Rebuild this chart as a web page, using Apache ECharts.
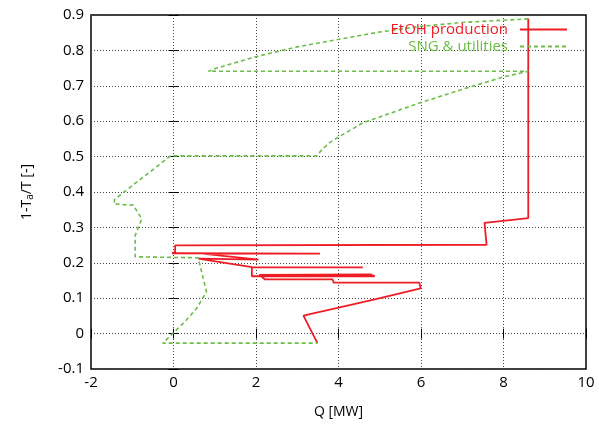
<!DOCTYPE html>
<html>
<head>
<meta charset="utf-8">
<script src="https://cdn.jsdelivr.net/npm/echarts@6/dist/echarts.min.js"></script>
<style>
html, body { margin: 0; padding: 0; background: #fff; }
#container { width: 599px; height: 424px; }
</style>
</head>
<body>
<div id="container"></div>
<script>
var dom = document.getElementById("container");
var myChart = echarts.init(dom);

// EtOH production curve (Q in MW, 1-Ta/T)
var etohQ = [8.6, 8.6, 7.54, 7.59, 0.04, 0.04, -0.03, 3.55, 0.75, 2.06, 0.6, 1.9, 4.59, 1.9, 1.9, 4.88, 4.78, 2.08, 2.22, 3.86, 3.88, 5.96, 5.99, 4.88, 3.15, 3.49];
var etohT = [0.89, 0.326, 0.313, 0.251, 0.249, 0.231, 0.227, 0.226, 0.225, 0.209, 0.212, 0.188, 0.187, 0.187, 0.162, 0.162, 0.167, 0.166, 0.153, 0.153, 0.144, 0.144, 0.128, 0.097, 0.051, -0.027];

// SNG & utilities curve
var sngQ = [8.6, 7.0, 6.0, 5.0, 4.04, 3.0, 2.02, 1.05, 0.844, 8.6, 8.0, 7.0, 5.98, 5.0, 4.6, 4.04, 3.79, 3.6, 3.47, -0.07, -1.42, -1.45, -1.2, -0.975, -0.77, -0.93, -0.93, 0.6, 0.72, 0.8, 0.56, 0.28, -0.26, 3.49];
var sngT = [0.889, 0.879, 0.868, 0.852, 0.832, 0.81, 0.783, 0.75, 0.741, 0.741, 0.725, 0.69, 0.652, 0.612, 0.596, 0.558, 0.54, 0.52, 0.502, 0.502, 0.38, 0.367, 0.364, 0.363, 0.324, 0.277, 0.217, 0.214, 0.156, 0.118, 0.071, 0.034, -0.027, -0.027];

var xTicks = [-2, 0, 2, 4, 6, 8, 10];

function pairs(xs, ys) {
    var out = [];
    for (var i = 0; i < xs.length; i++) {
        out.push([xs[i], ys[i]]);
    }
    return out;
}

var red = '#ee1d25';
var green = '#6abd45';
var font = 'Open Sans';

var option = {
    animation: false,
    textStyle: { fontFamily: font },
    grid: {
        left: 91, right: 13, top: 15, bottom: 53,
        show: true, borderColor: '#000', borderWidth: 1.5
    },
    legend: {
        orient: 'vertical',
        right: 26,
        top: 17,
        align: 'right',
        itemWidth: 47,
        itemHeight: 10,
        itemGap: 2,
        itemStyle: { opacity: 0 },
        textStyle: { fontFamily: font, fontSize: 15, padding: [0, 7, 0, 0] },
        data: [
            { name: 'EtOH production', textStyle: { color: red } },
            { name: 'SNG & utilities', textStyle: { color: green } }
        ]
    },
    xAxis: [{
        type: 'value',
        min: xTicks[0], max: xTicks[xTicks.length - 1], interval: 2,
        name: 'Q [MW]', nameLocation: 'middle', nameGap: 36,
        nameTextStyle: { fontSize: 14, color: '#000', fontFamily: font },
        axisLine: { show: false },
        axisTick: { show: true, inside: true, length: 5, lineStyle: { color: '#000' } },
        axisLabel: { fontSize: 15, color: '#000', margin: 6 },
        splitLine: { show: true, lineStyle: { color: '#444', type: [1, 2], width: 1 } }
    }, {
        type: 'value', position: 'top',
        min: -2, max: 10, interval: 2,
        axisLine: { show: false },
        axisTick: { show: true, inside: true, length: 5, lineStyle: { color: '#000' } },
        axisLabel: { show: false },
        splitLine: { show: false }
    }],
    yAxis: [{
        type: 'value',
        min: -0.1, max: 0.9, interval: 0.1,
        name: '{n|1-T}{s|a}{n|/T [-]}', nameLocation: 'middle', nameGap: 56, nameRotate: 90,
        nameTextStyle: {
            color: '#000', fontFamily: font,
            rich: {
                n: { fontSize: 14, color: '#000', fontFamily: font },
                s: { fontSize: 10, color: '#000', fontFamily: font, verticalAlign: 'bottom', padding: [6, 0, 0, 0] }
            }
        },
        axisLine: { show: false },
        axisTick: { show: true, inside: true, length: 5, lineStyle: { color: '#000' } },
        axisLabel: {
            fontSize: 15, color: '#000', margin: 7,
            formatter: function (v) { return String(+v.toFixed(1)); }
        },
        splitLine: { show: true, lineStyle: { color: '#444', type: [1, 2], width: 1 } }
    }, {
        type: 'value', position: 'right',
        min: -0.1, max: 0.9, interval: 0.1,
        axisLine: { show: false },
        axisTick: { show: true, inside: true, length: 5, lineStyle: { color: '#000' } },
        axisLabel: { show: false },
        splitLine: { show: false }
    }],
    series: [{
        name: 'EtOH production',
        type: 'line',
        showSymbol: false,
        symbol: 'none',
        color: red,
        lineStyle: { color: red, width: 1.8 },
        data: pairs(etohQ, etohT)
    }, {
        name: 'SNG & utilities',
        type: 'line',
        showSymbol: false,
        symbol: 'none',
        color: green,
        lineStyle: { color: green, width: 1.6, type: [4, 3] },
        data: pairs(sngQ, sngT)
    }]
};

myChart.setOption(option);
</script>
</body>
</html>
